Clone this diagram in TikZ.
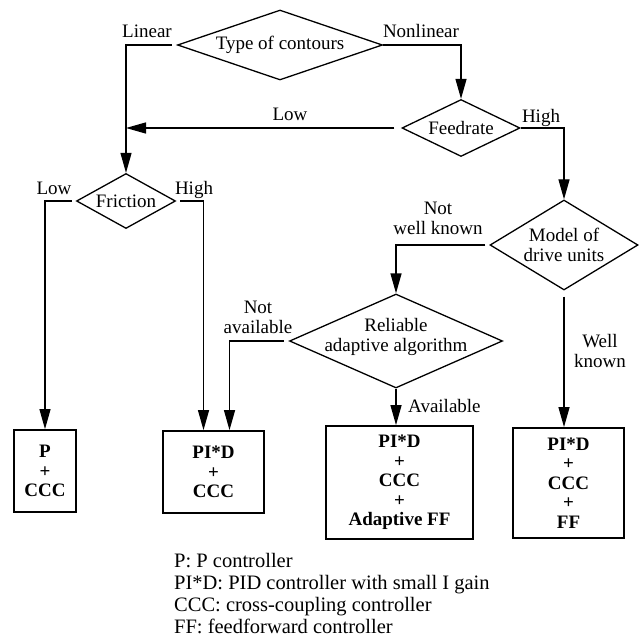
\documentclass[tikz,border=0pt]{standalone}
\usepackage{fontspec}
\setmainfont{Liberation Serif}
\usetikzlibrary{shapes.geometric,arrows.meta,calc}
\begin{document}
\begin{tikzpicture}[x=1pt,y=-1pt,
  font=\fontsize{19}{20}\selectfont,
  dia/.style={diamond, draw, line width=1.3pt, inner sep=0pt},
  outbox/.style={draw, line width=1.8pt, font=\fontsize{19}{19.5}\selectfont\bfseries, align=center, inner sep=0pt},
  flow/.style={line width=1.3pt, -{Triangle[length=20pt,width=11pt]}},
  lab/.style={align=center, inner sep=0pt},
  legend/.style={anchor=base west, inner sep=0pt, font=\fontsize{20.5}{21}\selectfont}
]
\useasboundingbox (0,0) rectangle (640,639);

% decisions
\node[dia, minimum width=205, minimum height=70, label={[lab]center:Type of contours}] (type) at (280,45) {};
\node[dia, minimum width=118, minimum height=57, label={[lab]center:Feedrate}] (feed) at (461,128) {};
\node[dia, minimum width=99, minimum height=55, label={[lab]center:Friction}] (fric) at (126,201) {};
\node[dia, minimum width=148, minimum height=90, label={[lab]center:Model of\\drive units}] (model) at (564,245) {};
\node[dia, minimum width=213, minimum height=94, label={[lab,yshift=4pt]center:Reliable\\adaptive algorithm}] (rel) at (396,341) {};

% outcomes
\node[outbox, minimum width=62, minimum height=82] (b1) at (45,471) {P\\+\\CCC};
\node[outbox, minimum width=101, minimum height=82] (b2) at (213.5,472) {PI*D\\+\\CCC};
\node[outbox, minimum width=147, minimum height=113] (b3) at (399.5,482.5) {PI*D\\+\\CCC\\+\\Adaptive FF};
\node[outbox, minimum width=111, minimum height=110] (b4) at (568.5,483) {PI*D\\+\\CCC\\+\\FF};

% connectors
\draw[flow, shorten <=5pt] (type.west) -| (fric.north);
\draw[flow] (type.east) -| (feed.north);
\draw[flow, shorten <=7pt] (feed.west) -- (feed.west -| fric.north);
\draw[flow] (feed.east) -| (model.north);
\draw[flow, shorten <=4pt] (fric.west) -| (b1.north);
\draw[flow, shorten <=4pt] (fric.east) -| ($(b2.north)+(-10,0)$);
\draw[flow, shorten <=4pt] (model.west) -| (rel.north);
\draw[flow, shorten <=6pt] (model.south) -- (model.south |- b4.north);
\draw[flow, shorten <=5pt] (rel.west) -| ($(b2.north)+(16,0)$);
\draw[flow] (rel.south) -- (rel.south |- b3.north);

% branch labels
\node[lab, anchor=base] (tLinear) at (147,38) {Linear};
\node[lab, anchor=base] (tNonlin) at (421,38) {Nonlinear};
\node[lab, anchor=base] (tHigh1) at (541,123) {High};
\node[lab, anchor=base] (tLow1) at (290,121) {Low};
\node[lab, anchor=base] (tLow2) at (54,195) {Low};
\node[lab, anchor=base] (tHigh2) at (194,195) {High};
\node[lab] (tNwk) at (438,218) {Not\\well known};
\node[lab] (tNav) at (258,317) {Not\\available};
\node[lab] (tWk) at (600,351) {Well\\known};
\node[lab, anchor=base west] (tAv) at (408,412) {Available};

% legend
\node[legend] (g1) at (174,567) {P: P controller};
\node[legend] (g2) at (174,589) {PI*D: PID controller with small I gain};
\node[legend] (g3) at (174,611) {CCC: cross-coupling controller};
\node[legend] (g4) at (174,633) {FF: feedforward controller};
\end{tikzpicture}
\end{document}
